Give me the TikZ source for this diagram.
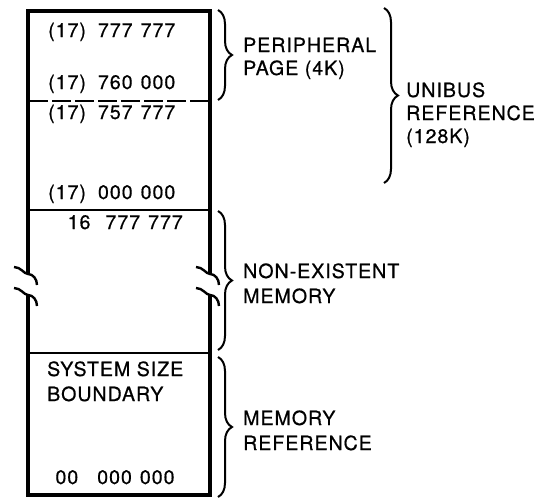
\documentclass[tikz,border=0pt]{standalone}
\usepackage{fontspec}
\newfontfamily\lbl[LetterSpace=5,FakeBold=0.6]{TeX Gyre Heros}
\usetikzlibrary{decorations.pathreplacing}
\newcommand{\gapA}{\hspace{12pt}}
\newcommand{\gapB}{\hspace{8pt}}
\begin{document}
\begin{tikzpicture}[x=1pt,y=-1pt,
  frame/.style={line width=3.4pt},
  divider/.style={line width=2.2pt},
  brk/.style={line width=2.4pt},
  bracedec/.style={decorate,decoration={brace,amplitude=14pt,aspect=0.5},line width=2pt},
  txt/.style={font=\lbl\fontsize{19.6}{24}\selectfont,inner sep=0pt,anchor=base west},
]
\useasboundingbox (0,0) rectangle (538,498);
% frame
\draw[frame] (28,274) -- (28,11) -- (210,11) -- (210,274);
\draw[frame] (28,295) -- (28,495) -- (210,495) -- (210,295);
% break marks
\foreach \dx in {0,182}{
  \draw[brk] (14+\dx,267) .. controls (21+\dx,267) and (24+\dx,274) .. (28+\dx,274) .. controls (33+\dx,274) and (37+\dx,279) .. (37+\dx,285);
  \draw[brk] (14+\dx,288) .. controls (21+\dx,288) and (24+\dx,295) .. (28+\dx,295) .. controls (33+\dx,295) and (37+\dx,300) .. (37+\dx,306);
}
% dividers
\coordinate (dl) at (29,101); \coordinate (dr) at (208,101);
\draw[divider, dash pattern=on 19pt off 4pt] (dl) -- (dr);
\draw[divider] (28,210) -- (210,210);
\draw[divider] (28,353) -- (210,353);
% box texts
\node[txt] (a1) at (48,37) {(17)\gapA777\gapB777};
\node[txt] (a2) at (48,89) {(17)\gapA760\gapB000};
\node[txt] (a3) at (48,119) {(17)\gapA757\gapB777};
\node[txt] (a4) at (48,199) {(17)\gapA000\gapB000};
\node[txt,anchor=base east] (a5) at (183,229) {16\hspace{15pt}777\gapB777};
\node[txt] (a6) at (47,376) {SYSTEM SIZE};
\node[txt] (a7) at (47,401) {BOUNDARY};
\node[txt,anchor=base] (a8) at (115,484) {00\hspace{19pt}000\gapB000};
% braces
\coordinate (b1t) at (218,10);  \coordinate (b1b) at (218,100);
\coordinate (b2t) at (384,8);   \coordinate (b2b) at (384,183);
\coordinate (b3t) at (218,211); \coordinate (b3b) at (218,350);
\coordinate (b4t) at (218,357); \coordinate (b4b) at (218,497);
\draw[bracedec] (b1t) -- (b1b);
\draw[bracedec] (b2t) -- (b2b);
\draw[bracedec] (b3t) -- (b3b);
\draw[bracedec] (b4t) -- (b4b);
% labels
\node[txt] (p1) at (243,52) {PERIPHERAL};
\node[txt] (p2) at (243,75) {PAGE (4K)};
\node[txt] (u1) at (406,97) {UNIBUS};
\node[txt] (u2) at (406,120) {REFERENCE};
\node[txt] (u3) at (406,143) {(128K)};
\node[txt] (n1) at (243,278) {NON-EXISTENT};
\node[txt] (n2) at (243,303) {MEMORY};
\node[txt] (m1) at (243,425) {MEMORY};
\node[txt] (m2) at (243,450) {REFERENCE};
\end{tikzpicture}
\end{document}
